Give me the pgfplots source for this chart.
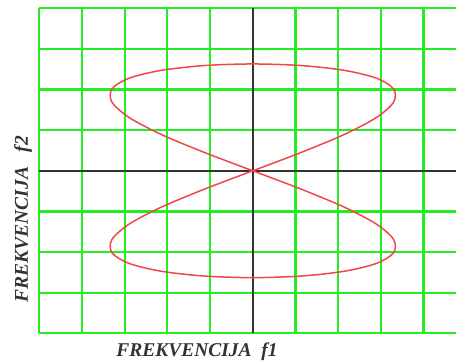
\documentclass[border=0pt]{standalone}
\usepackage{fontspec}
\setmainfont{Liberation Serif}
\usepackage{pgfplots}
\pgfplotsset{compat=1.18}
\definecolor{gridgreen}{HTML}{22EE22}
\definecolor{curvered}{HTML}{F04848}
\definecolor{labelgray}{HTML}{333333}

\begin{document}
\begin{tikzpicture}
\useasboundingbox (-39.3bp,-30.7bp) rectangle (416.7bp,333.3bp);
\begin{axis}[
    at={(0,0)}, anchor=south west,
    scale only axis,
    width=416.7bp, height=325bp,
    xmin=-5, xmax=4.76,
    ymin=-4, ymax=4,
    xtick={-5,...,4}, ytick={-4,...,4},
    xticklabels={}, yticklabels={},
    major tick length=0pt,
    axis line style={draw=none},
    grid=major,
    grid style={color=gridgreen, line width=2.2bp, solid},
    clip=false,
]
% axes through the centre
\addplot[labelgray, line width=2bp] coordinates {(-5,0) (4.76,0)};
\addplot[labelgray, line width=2bp] coordinates {(0,-4) (0,4)};
% lissajous curve
\addplot[curvered, line width=1.5bp, smooth] coordinates {
    (0,0) (1.146,0.457) (2.153,0.899) (2.901,1.315) (3.299,1.691)
    (3.299,2.015) (2.901,2.278) (2.153,2.471) (1.146,2.590) (0,2.63)
    (-1.146,2.590) (-2.153,2.471) (-2.901,2.278) (-3.299,2.015) (-3.299,1.691)
    (-2.901,1.315) (-2.153,0.899) (-1.146,0.457) (0,0)
    (1.146,-0.457) (2.153,-0.899) (2.901,-1.315) (3.299,-1.691)
    (3.299,-2.015) (2.901,-2.278) (2.153,-2.471) (1.146,-2.590) (0,-2.63)
    (-1.146,-2.590) (-2.153,-2.471) (-2.901,-2.278) (-3.299,-2.015) (-3.299,-1.691)
    (-2.901,-1.315) (-2.153,-0.899) (-1.146,-0.457) (0,0)
};
\end{axis}
\node[text=labelgray, font=\fontsize{19.5bp}{21bp}\selectfont\bfseries\itshape]
    at (157.7bp,-18.7bp) {FREKVENCIJA\ \ f1};
\node[text=labelgray, rotate=90, font=\fontsize{19.5bp}{21bp}\selectfont\bfseries\itshape]
    at (-16.3bp,114.3bp) {FREKVENCIJA\ \ \ f2};
\end{tikzpicture}
\end{document}
